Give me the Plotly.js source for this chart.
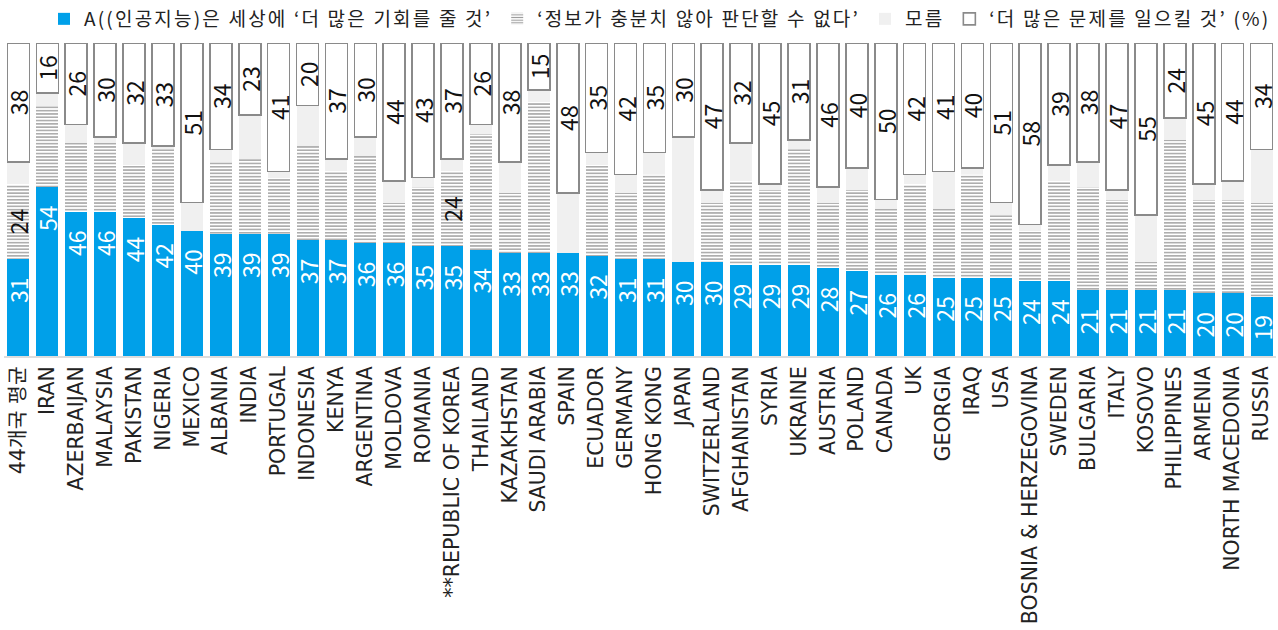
<!DOCTYPE html>
<html>
<head>
<meta charset="utf-8">
<script src="https://cdn.plot.ly/plotly-3.0.1.min.js"></script>
<style>
html,body{margin:0;padding:0;background:#fff;}
#chart{width:1278px;height:630px;}
.legendtext{letter-spacing:2.2px;}
</style>
</head>
<body>
<div id="chart"></div>
<script>
const categories = ['44개국 평균','IRAN','AZERBAIJAN','MALAYSIA','PAKISTAN','NIGERIA','MEXICO','ALBANIA','INDIA','PORTUGAL','INDONESIA','KENYA','ARGENTINA','MOLDOVA','ROMANIA','**REPUBLIC OF KOREA','THAILAND','KAZAKHSTAN','SAUDI ARABIA','SPAIN','ECUADOR','GERMANY','HONG KONG','JAPAN','SWITZERLAND','AFGHANISTAN','SYRIA','UKRAINE','AUSTRIA','POLAND','CANADA','UK','GEORGIA','IRAQ','USA','BOSNIA & HERZEGOVINA','SWEDEN','BULGARIA','ITALY','KOSOVO','PHILIPPINES','ARMENIA','NORTH MACEDONIA','RUSSIA'];
const opportunity = [31,54,46,46,44,42,40,39,39,39,37,37,36,36,35,35,34,33,33,33,32,31,31,30,30,29,29,29,28,27,26,26,25,25,25,24,24,21,21,21,21,20,20,19];
const notEnoughInfo = [24,26,22,22,17,24,0,23,24,18,30,22,28,13,19,24,37,19,48,0,29,21,27,0,19,27,24,37,21,26,21,29,22,33,20,16,32,33,29,9,48,30,30,30];
const dontKnow = [7,4,6,2,7,1,9,4,14,2,13,4,6,7,3,4,3,10,4,19,4,6,7,40,4,12,2,3,5,7,3,3,12,2,4,2,5,8,3,15,7,5,6,17];
const problems = [38,16,26,30,32,33,51,34,23,41,20,37,30,44,43,37,26,38,15,48,35,42,35,30,47,32,45,31,46,40,50,42,41,40,51,58,39,38,47,55,24,45,44,34];
const labelledInfo = ['44개국 평균','**REPUBLIC OF KOREA'];
const seriesNames = ["A((인공지능)은 세상에 ‘더 많은 기회를 줄 것’", "‘정보가 충분치 않아 판단할 수 없다’", "모름", "‘더 많은 문제를 일으킬 것’ (%)"];

const FONT = "'Noto Sans CJK KR', 'Noto Sans', sans-serif";
const TICKFONT = "'DejaVu Sans', 'Noto Sans CJK KR', sans-serif";
const common = {type:'bar', x:categories, textposition:'inside', textangle:-90, constraintext:'none', hoverinfo:'skip', cliponaxis:false};
const PAD = '\u00a0\u00a0\u00a0';

const traces = [
  Object.assign({}, common, {
    name: seriesNames[0], y: opportunity, text: opportunity.map(v => String(v) + PAD),
    insidetextanchor:'end',
    marker:{color:'#00a0e9', line:{width:0}},
    insidetextfont:{color:'#ffffff', size:23, family:FONT}
  }),
  Object.assign({}, common, {
    name: seriesNames[1], y: notEnoughInfo,
    text: categories.map((c,i)=> labelledInfo.includes(c) ? String(notEnoughInfo[i]) : ''),
    insidetextanchor:'middle',
    marker:{color:'#ffffff', line:{width:0}, pattern:{shape:'-', fgcolor:'#9a9a9a', bgcolor:'#ffffff', size:3.3, solidity:0.4}},
    insidetextfont:{color:'#111111', size:23, family:FONT}
  }),
  Object.assign({}, common, {
    name: seriesNames[2], y: dontKnow, text: dontKnow.map(()=>''),
    marker:{color:'#f0f0f0', line:{width:0}}
  }),
  Object.assign({}, common, {
    name: seriesNames[3], y: problems, text: problems.map(String),
    insidetextanchor:'middle',
    marker:{color:'#ffffff', line:{width:1.6, color:'#8a8a8a'}},
    insidetextfont:{color:'#111111', size:23, family:FONT}
  })
];

const layout = {
  width:1278, height:630,
  margin:{l:4, r:2, t:43, b:274, pad:0},
  barmode:'stack', bargap:0.24,
  paper_bgcolor:'#ffffff', plot_bgcolor:'#ffffff',
  font:{family:FONT, color:'#222222', size:17},
  showlegend:true,
  legend:{orientation:'h', x:1, xanchor:'right', y:1, yanchor:'top', yref:'container', traceorder:'normal',
          font:{family:FONT, size:19, color:'#222222'}, itemwidth:30, bgcolor:'rgba(0,0,0,0)'},
  xaxis:{type:'category', tickangle:-90, showgrid:false, zeroline:false, showline:true, linecolor:'#dddddd', linewidth:2,
         ticks:'', tickfont:{family:TICKFONT, size:20.5, color:'#222222'}, automargin:false, fixedrange:true},
  yaxis:{range:[0,100], visible:false, fixedrange:true}
};

Plotly.newPlot('chart', traces, layout, {displayModeBar:false, staticPlot:true});
</script>
</body>
</html>
